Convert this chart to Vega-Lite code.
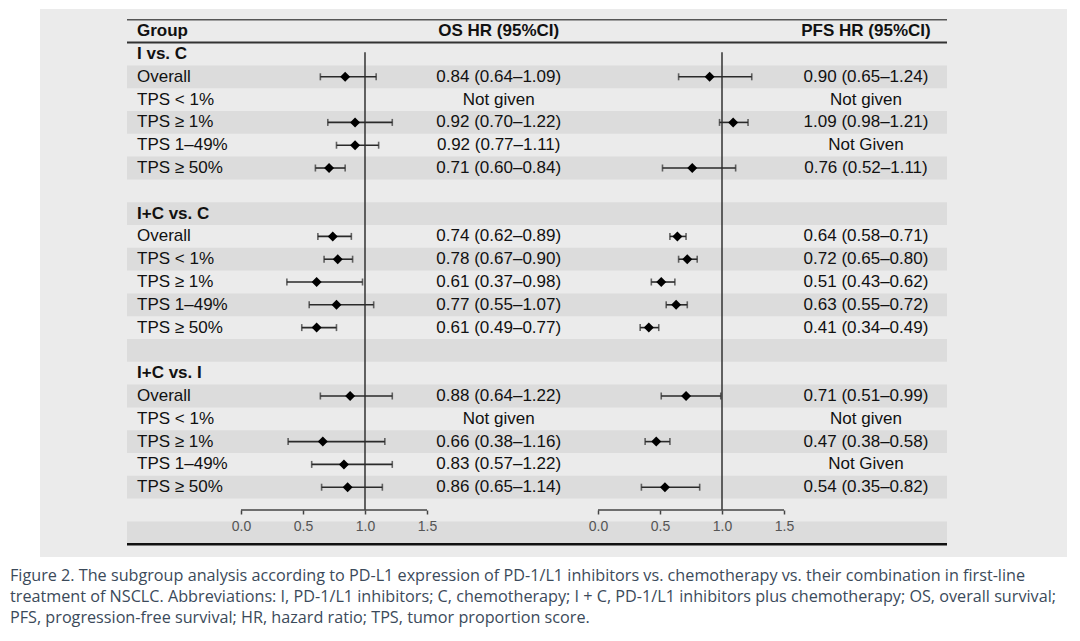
{
  "$schema": "https://vega.github.io/schema/vega-lite/v6.json",
  "padding": {"left": 10, "top": 9, "right": 13, "bottom": 0},
  "background": "white",
  "spacing": 0,
  "bounds": "flush",
  "data": {"values": [
    {"row": -1, "kind": "header", "label": "Group", "os": null, "os_lo": null, "os_hi": null, "os_txt": "OS HR (95%CI)", "pfs": null, "pfs_lo": null, "pfs_hi": null, "pfs_txt": "PFS HR (95%CI)"},
    {"row": 0, "kind": "group", "label": "I vs. C", "os": null, "os_lo": null, "os_hi": null, "os_txt": "", "pfs": null, "pfs_lo": null, "pfs_hi": null, "pfs_txt": ""},
    {"row": 1, "kind": "sub", "label": "Overall", "os": 0.84, "os_lo": 0.64, "os_hi": 1.09, "os_txt": "0.84 (0.64–1.09)", "pfs": 0.90, "pfs_lo": 0.65, "pfs_hi": 1.24, "pfs_txt": "0.90 (0.65–1.24)"},
    {"row": 2, "kind": "sub", "label": "TPS < 1%", "os": null, "os_lo": null, "os_hi": null, "os_txt": "Not given", "pfs": null, "pfs_lo": null, "pfs_hi": null, "pfs_txt": "Not given"},
    {"row": 3, "kind": "sub", "label": "TPS ≥ 1%", "os": 0.92, "os_lo": 0.70, "os_hi": 1.22, "os_txt": "0.92 (0.70–1.22)", "pfs": 1.09, "pfs_lo": 0.98, "pfs_hi": 1.21, "pfs_txt": "1.09 (0.98–1.21)"},
    {"row": 4, "kind": "sub", "label": "TPS 1–49%", "os": 0.92, "os_lo": 0.77, "os_hi": 1.11, "os_txt": "0.92 (0.77–1.11)", "pfs": null, "pfs_lo": null, "pfs_hi": null, "pfs_txt": "Not Given"},
    {"row": 5, "kind": "sub", "label": "TPS ≥ 50%", "os": 0.71, "os_lo": 0.60, "os_hi": 0.84, "os_txt": "0.71 (0.60–0.84)", "pfs": 0.76, "pfs_lo": 0.52, "pfs_hi": 1.11, "pfs_txt": "0.76 (0.52–1.11)"},
    {"row": 6, "kind": "blank", "label": "", "os": null, "os_lo": null, "os_hi": null, "os_txt": "", "pfs": null, "pfs_lo": null, "pfs_hi": null, "pfs_txt": ""},
    {"row": 7, "kind": "group", "label": "I+C vs. C", "os": null, "os_lo": null, "os_hi": null, "os_txt": "", "pfs": null, "pfs_lo": null, "pfs_hi": null, "pfs_txt": ""},
    {"row": 8, "kind": "sub", "label": "Overall", "os": 0.74, "os_lo": 0.62, "os_hi": 0.89, "os_txt": "0.74 (0.62–0.89)", "pfs": 0.64, "pfs_lo": 0.58, "pfs_hi": 0.71, "pfs_txt": "0.64 (0.58–0.71)"},
    {"row": 9, "kind": "sub", "label": "TPS < 1%", "os": 0.78, "os_lo": 0.67, "os_hi": 0.90, "os_txt": "0.78 (0.67–0.90)", "pfs": 0.72, "pfs_lo": 0.65, "pfs_hi": 0.80, "pfs_txt": "0.72 (0.65–0.80)"},
    {"row": 10, "kind": "sub", "label": "TPS ≥ 1%", "os": 0.61, "os_lo": 0.37, "os_hi": 0.98, "os_txt": "0.61 (0.37–0.98)", "pfs": 0.51, "pfs_lo": 0.43, "pfs_hi": 0.62, "pfs_txt": "0.51 (0.43–0.62)"},
    {"row": 11, "kind": "sub", "label": "TPS 1–49%", "os": 0.77, "os_lo": 0.55, "os_hi": 1.07, "os_txt": "0.77 (0.55–1.07)", "pfs": 0.63, "pfs_lo": 0.55, "pfs_hi": 0.72, "pfs_txt": "0.63 (0.55–0.72)"},
    {"row": 12, "kind": "sub", "label": "TPS ≥ 50%", "os": 0.61, "os_lo": 0.49, "os_hi": 0.77, "os_txt": "0.61 (0.49–0.77)", "pfs": 0.41, "pfs_lo": 0.34, "pfs_hi": 0.49, "pfs_txt": "0.41 (0.34–0.49)"},
    {"row": 13, "kind": "blank", "label": "", "os": null, "os_lo": null, "os_hi": null, "os_txt": "", "pfs": null, "pfs_lo": null, "pfs_hi": null, "pfs_txt": ""},
    {"row": 14, "kind": "group", "label": "I+C vs. I", "os": null, "os_lo": null, "os_hi": null, "os_txt": "", "pfs": null, "pfs_lo": null, "pfs_hi": null, "pfs_txt": ""},
    {"row": 15, "kind": "sub", "label": "Overall", "os": 0.88, "os_lo": 0.64, "os_hi": 1.22, "os_txt": "0.88 (0.64–1.22)", "pfs": 0.71, "pfs_lo": 0.51, "pfs_hi": 0.99, "pfs_txt": "0.71 (0.51–0.99)"},
    {"row": 16, "kind": "sub", "label": "TPS < 1%", "os": null, "os_lo": null, "os_hi": null, "os_txt": "Not given", "pfs": null, "pfs_lo": null, "pfs_hi": null, "pfs_txt": "Not given"},
    {"row": 17, "kind": "sub", "label": "TPS ≥ 1%", "os": 0.66, "os_lo": 0.38, "os_hi": 1.16, "os_txt": "0.66 (0.38–1.16)", "pfs": 0.47, "pfs_lo": 0.38, "pfs_hi": 0.58, "pfs_txt": "0.47 (0.38–0.58)"},
    {"row": 18, "kind": "sub", "label": "TPS 1–49%", "os": 0.83, "os_lo": 0.57, "os_hi": 1.22, "os_txt": "0.83 (0.57–1.22)", "pfs": null, "pfs_lo": null, "pfs_hi": null, "pfs_txt": "Not Given"},
    {"row": 19, "kind": "sub", "label": "TPS ≥ 50%", "os": 0.86, "os_lo": 0.65, "os_hi": 1.14, "os_txt": "0.86 (0.65–1.14)", "pfs": 0.54, "pfs_lo": 0.35, "pfs_hi": 0.82, "pfs_txt": "0.54 (0.35–0.82)"},
    {"row": 20, "kind": "blank", "label": "", "os": null, "os_lo": null, "os_hi": null, "os_txt": "", "pfs": null, "pfs_lo": null, "pfs_hi": null, "pfs_txt": ""},
    {"row": 21, "kind": "blank", "label": "", "os": null, "os_lo": null, "os_hi": null, "os_txt": "", "pfs": null, "pfs_lo": null, "pfs_hi": null, "pfs_txt": ""}
  ]},
  "resolve": {"scale": {"x": "independent", "y": "shared"}},
  "hconcat": [
    {
      "width": 87, "height": 548,
      "mark": {"type": "rule", "opacity": 0},
      "encoding": {"y": {"field": "row", "type": "ordinal", "axis": null, "scale": {"type": "band", "domain": [-1,0,1,2,3,4,5,6,7,8,9,10,11,12,13,14,15,16,17,18,19,20,21], "paddingInner": 0, "paddingOuter": 0.5175, "align": 0.458}}}
    },
    {
      "width": 102, "height": 548,
      "layer": [
        {"transform": [{"filter": "datum.row % 2 == 1"}], "mark": {"type": "rect", "color": "#dcdcdc"}, "encoding": {"y": {"field": "row", "type": "ordinal", "axis": null, "scale": {"type": "band", "domain": [-1,0,1,2,3,4,5,6,7,8,9,10,11,12,13,14,15,16,17,18,19,20,21], "paddingInner": 0, "paddingOuter": 0.5175, "align": 0.458}}}},
        {"transform": [{"filter": "datum.row == -1"}], "mark": {"type": "rule", "color": "#555555", "strokeWidth": 1.5}, "encoding": {"y": {"field": "row", "type": "ordinal", "bandPosition": 0}}},
        {"transform": [{"filter": "datum.row == 0"}], "mark": {"type": "rule", "color": "#333333", "strokeWidth": 2}, "encoding": {"y": {"field": "row", "type": "ordinal", "bandPosition": 0}}},
        {"transform": [{"filter": "datum.row == 21"}], "mark": {"type": "rule", "color": "#111111", "strokeWidth": 2.5}, "encoding": {"y": {"field": "row", "type": "ordinal", "bandPosition": 1}}},
        {"transform": [{"filter": "datum.kind == 'header' || datum.kind == 'group'"}], "mark": {"type": "text", "align": "left", "baseline": "middle", "font": "Liberation Sans", "fontSize": 17, "fontWeight": "bold", "color": "#111111"}, "encoding": {"x": {"datum": "c", "type": "nominal", "axis": null, "scale": {"type": "point", "align": 0.098}}, "y": {"field": "row", "type": "ordinal"}, "text": {"field": "label"}}},
        {"transform": [{"filter": "datum.kind == 'sub'"}], "mark": {"type": "text", "align": "left", "baseline": "middle", "font": "Liberation Sans", "fontSize": 17, "color": "#111111"}, "encoding": {"x": {"datum": "c", "type": "nominal"}, "y": {"field": "row", "type": "ordinal"}, "text": {"field": "label"}}}
      ]
    },
    {
      "width": 208, "height": 548,
      "layer": [
        {"transform": [{"filter": "datum.row % 2 == 1"}], "mark": {"type": "rect", "color": "#dcdcdc"}, "encoding": {"y": {"field": "row", "type": "ordinal", "axis": null, "scale": {"type": "band", "domain": [-1,0,1,2,3,4,5,6,7,8,9,10,11,12,13,14,15,16,17,18,19,20,21], "paddingInner": 0, "paddingOuter": 0.5175, "align": 0.458}}}},
        {"transform": [{"filter": "datum.row == -1"}], "mark": {"type": "rule", "color": "#555555", "strokeWidth": 1.5}, "encoding": {"y": {"field": "row", "type": "ordinal", "bandPosition": 0}}},
        {"transform": [{"filter": "datum.row == 0"}], "mark": {"type": "rule", "color": "#333333", "strokeWidth": 2}, "encoding": {"y": {"field": "row", "type": "ordinal", "bandPosition": 0}}},
        {"transform": [{"filter": "datum.row == 21"}], "mark": {"type": "rule", "color": "#111111", "strokeWidth": 2.5}, "encoding": {"y": {"field": "row", "type": "ordinal", "bandPosition": 1}}},
        {"data": {"values": [{}]}, "mark": {"type": "rule", "color": "#333333", "strokeWidth": 1.5}, "encoding": {"x": {"datum": 1, "type": "quantitative"}, "y": {"datum": 0, "type": "ordinal", "bandPosition": 0.42}, "y2": {"datum": 20, "bandPosition": 0.5}}},
        {"data": {"values": [{}]}, "mark": {"type": "rule", "color": "#444444", "strokeWidth": 1.5}, "encoding": {"x": {"datum": 0, "type": "quantitative"}, "x2": {"datum": 1.5}, "y": {"datum": 20, "type": "ordinal"}}},
        {"transform": [{"filter": "isValid(datum.os)"}], "mark": {"type": "rule", "color": "#2a2a2a", "strokeWidth": 1.6}, "encoding": {
          "x": {"field": "os_lo", "type": "quantitative", "scale": {"domain": [-0.09677, 1.58065], "nice": false, "zero": false},
                "axis": {"orient": "bottom", "offset": -47, "values": [0, 0.5, 1, 1.5], "format": ".1f", "domain": false, "grid": false, "ticks": true, "tickSize": 4, "tickColor": "#444444", "tickWidth": 1.5, "labelFont": "Liberation Sans", "labelFontSize": 14, "labelColor": "#555555", "labelPadding": 5, "title": null, "zindex": 2}},
          "x2": {"field": "os_hi"}, "y": {"field": "row", "type": "ordinal"}}},
        {"transform": [{"filter": "isValid(datum.os)"}], "mark": {"type": "tick", "color": "#2a2a2a", "thickness": 1.6, "size": 7}, "encoding": {"x": {"field": "os_lo", "type": "quantitative"}, "y": {"field": "row", "type": "ordinal"}}},
        {"transform": [{"filter": "isValid(datum.os)"}], "mark": {"type": "tick", "color": "#2a2a2a", "thickness": 1.6, "size": 7}, "encoding": {"x": {"field": "os_hi", "type": "quantitative"}, "y": {"field": "row", "type": "ordinal"}}},
        {"transform": [{"filter": "isValid(datum.os)"}], "mark": {"type": "point", "shape": "diamond", "filled": true, "color": "#000000", "opacity": 1, "size": 100}, "encoding": {"x": {"field": "os", "type": "quantitative"}, "y": {"field": "row", "type": "ordinal"}}}
      ]
    },
    {
      "width": 126, "height": 548,
      "layer": [
        {"transform": [{"filter": "datum.row % 2 == 1"}], "mark": {"type": "rect", "color": "#dcdcdc"}, "encoding": {"y": {"field": "row", "type": "ordinal", "axis": null, "scale": {"type": "band", "domain": [-1,0,1,2,3,4,5,6,7,8,9,10,11,12,13,14,15,16,17,18,19,20,21], "paddingInner": 0, "paddingOuter": 0.5175, "align": 0.458}}}},
        {"transform": [{"filter": "datum.row == -1"}], "mark": {"type": "rule", "color": "#555555", "strokeWidth": 1.5}, "encoding": {"y": {"field": "row", "type": "ordinal", "bandPosition": 0}}},
        {"transform": [{"filter": "datum.row == 0"}], "mark": {"type": "rule", "color": "#333333", "strokeWidth": 2}, "encoding": {"y": {"field": "row", "type": "ordinal", "bandPosition": 0}}},
        {"transform": [{"filter": "datum.row == 21"}], "mark": {"type": "rule", "color": "#111111", "strokeWidth": 2.5}, "encoding": {"y": {"field": "row", "type": "ordinal", "bandPosition": 1}}},
        {"transform": [{"filter": "datum.kind == 'header'"}], "mark": {"type": "text", "align": "center", "baseline": "middle", "font": "Liberation Sans", "fontSize": 17, "fontWeight": "bold", "color": "#111111"}, "encoding": {"x": {"datum": "c", "type": "nominal", "axis": null, "scale": {"type": "point", "align": 0.49}}, "y": {"field": "row", "type": "ordinal"}, "text": {"field": "os_txt"}}},
        {"transform": [{"filter": "datum.kind == 'sub'"}], "mark": {"type": "text", "align": "center", "baseline": "middle", "font": "Liberation Sans", "fontSize": 17, "color": "#111111"}, "encoding": {"x": {"datum": "c", "type": "nominal"}, "y": {"field": "row", "type": "ordinal"}, "text": {"field": "os_txt"}}}
      ]
    },
    {
      "width": 232, "height": 548,
      "layer": [
        {"transform": [{"filter": "datum.row % 2 == 1"}], "mark": {"type": "rect", "color": "#dcdcdc"}, "encoding": {"y": {"field": "row", "type": "ordinal", "axis": null, "scale": {"type": "band", "domain": [-1,0,1,2,3,4,5,6,7,8,9,10,11,12,13,14,15,16,17,18,19,20,21], "paddingInner": 0, "paddingOuter": 0.5175, "align": 0.458}}}},
        {"transform": [{"filter": "datum.row == -1"}], "mark": {"type": "rule", "color": "#555555", "strokeWidth": 1.5}, "encoding": {"y": {"field": "row", "type": "ordinal", "bandPosition": 0}}},
        {"transform": [{"filter": "datum.row == 0"}], "mark": {"type": "rule", "color": "#333333", "strokeWidth": 2}, "encoding": {"y": {"field": "row", "type": "ordinal", "bandPosition": 0}}},
        {"transform": [{"filter": "datum.row == 21"}], "mark": {"type": "rule", "color": "#111111", "strokeWidth": 2.5}, "encoding": {"y": {"field": "row", "type": "ordinal", "bandPosition": 1}}},
        {"data": {"values": [{}]}, "mark": {"type": "rule", "color": "#333333", "strokeWidth": 1.5}, "encoding": {"x": {"datum": 1, "type": "quantitative"}, "y": {"datum": 0, "type": "ordinal", "bandPosition": 0.42}, "y2": {"datum": 20, "bandPosition": 0.5}}},
        {"data": {"values": [{}]}, "mark": {"type": "rule", "color": "#444444", "strokeWidth": 1.5}, "encoding": {"x": {"datum": 0, "type": "quantitative"}, "x2": {"datum": 1.5}, "y": {"datum": 20, "type": "ordinal"}}},
        {"transform": [{"filter": "isValid(datum.pfs)"}], "mark": {"type": "rule", "color": "#2a2a2a", "strokeWidth": 1.6}, "encoding": {
          "x": {"field": "pfs_lo", "type": "quantitative", "scale": {"domain": [-0.28226, 1.58871], "nice": false, "zero": false},
                "axis": {"orient": "bottom", "offset": -47, "values": [0, 0.5, 1, 1.5], "format": ".1f", "domain": false, "grid": false, "ticks": true, "tickSize": 4, "tickColor": "#444444", "tickWidth": 1.5, "labelFont": "Liberation Sans", "labelFontSize": 14, "labelColor": "#555555", "labelPadding": 5, "title": null, "zindex": 2}},
          "x2": {"field": "pfs_hi"}, "y": {"field": "row", "type": "ordinal"}}},
        {"transform": [{"filter": "isValid(datum.pfs)"}], "mark": {"type": "tick", "color": "#2a2a2a", "thickness": 1.6, "size": 7}, "encoding": {"x": {"field": "pfs_lo", "type": "quantitative"}, "y": {"field": "row", "type": "ordinal"}}},
        {"transform": [{"filter": "isValid(datum.pfs)"}], "mark": {"type": "tick", "color": "#2a2a2a", "thickness": 1.6, "size": 7}, "encoding": {"x": {"field": "pfs_hi", "type": "quantitative"}, "y": {"field": "row", "type": "ordinal"}}},
        {"transform": [{"filter": "isValid(datum.pfs)"}], "mark": {"type": "point", "shape": "diamond", "filled": true, "color": "#000000", "opacity": 1, "size": 100}, "encoding": {"x": {"field": "pfs", "type": "quantitative"}, "y": {"field": "row", "type": "ordinal"}}}
      ]
    },
    {
      "width": 152, "height": 548,
      "layer": [
        {"transform": [{"filter": "datum.row % 2 == 1"}], "mark": {"type": "rect", "color": "#dcdcdc"}, "encoding": {"y": {"field": "row", "type": "ordinal", "axis": null, "scale": {"type": "band", "domain": [-1,0,1,2,3,4,5,6,7,8,9,10,11,12,13,14,15,16,17,18,19,20,21], "paddingInner": 0, "paddingOuter": 0.5175, "align": 0.458}}}},
        {"transform": [{"filter": "datum.row == -1"}], "mark": {"type": "rule", "color": "#555555", "strokeWidth": 1.5}, "encoding": {"y": {"field": "row", "type": "ordinal", "bandPosition": 0}}},
        {"transform": [{"filter": "datum.row == 0"}], "mark": {"type": "rule", "color": "#333333", "strokeWidth": 2}, "encoding": {"y": {"field": "row", "type": "ordinal", "bandPosition": 0}}},
        {"transform": [{"filter": "datum.row == 21"}], "mark": {"type": "rule", "color": "#111111", "strokeWidth": 2.5}, "encoding": {"y": {"field": "row", "type": "ordinal", "bandPosition": 1}}},
        {"transform": [{"filter": "datum.kind == 'header'"}], "mark": {"type": "text", "align": "center", "baseline": "middle", "font": "Liberation Sans", "fontSize": 17, "fontWeight": "bold", "color": "#111111"}, "encoding": {"x": {"datum": "c", "type": "nominal", "axis": null, "scale": {"type": "point", "align": 0.467}}, "y": {"field": "row", "type": "ordinal"}, "text": {"field": "pfs_txt"}}},
        {"transform": [{"filter": "datum.kind == 'sub'"}], "mark": {"type": "text", "align": "center", "baseline": "middle", "font": "Liberation Sans", "fontSize": 17, "color": "#111111"}, "encoding": {"x": {"datum": "c", "type": "nominal"}, "y": {"field": "row", "type": "ordinal"}, "text": {"field": "pfs_txt"}}}
      ]
    },
    {
      "width": 120, "height": 548,
      "mark": {"type": "rule", "opacity": 0},
      "encoding": {"y": {"field": "row", "type": "ordinal", "axis": null}}
    }
  ],
  "title": {
    "text": [
      "Figure 2. The subgroup analysis according to PD-L1 expression of PD-1/L1 inhibitors vs. chemotherapy vs. their combination in first-line",
      "treatment of NSCLC. Abbreviations: I, PD-1/L1 inhibitors; C, chemotherapy; I + C, PD-1/L1 inhibitors plus chemotherapy; OS, overall survival;",
      "PFS, progression-free survival; HR, hazard ratio; TPS, tumor proportion score."
    ],
    "orient": "bottom", "anchor": "start", "frame": "group", "offset": 11, "dx": -30,
    "font": "Open Sans", "fontSize": 16.2, "fontWeight": "normal", "color": "#3b4a5a", "lineHeight": 21, "baseline": "top"
  },
  "config": {
    "view": {"stroke": null, "fill": "#ebebeb"},
    "concat": {"spacing": 0}
  }
}
